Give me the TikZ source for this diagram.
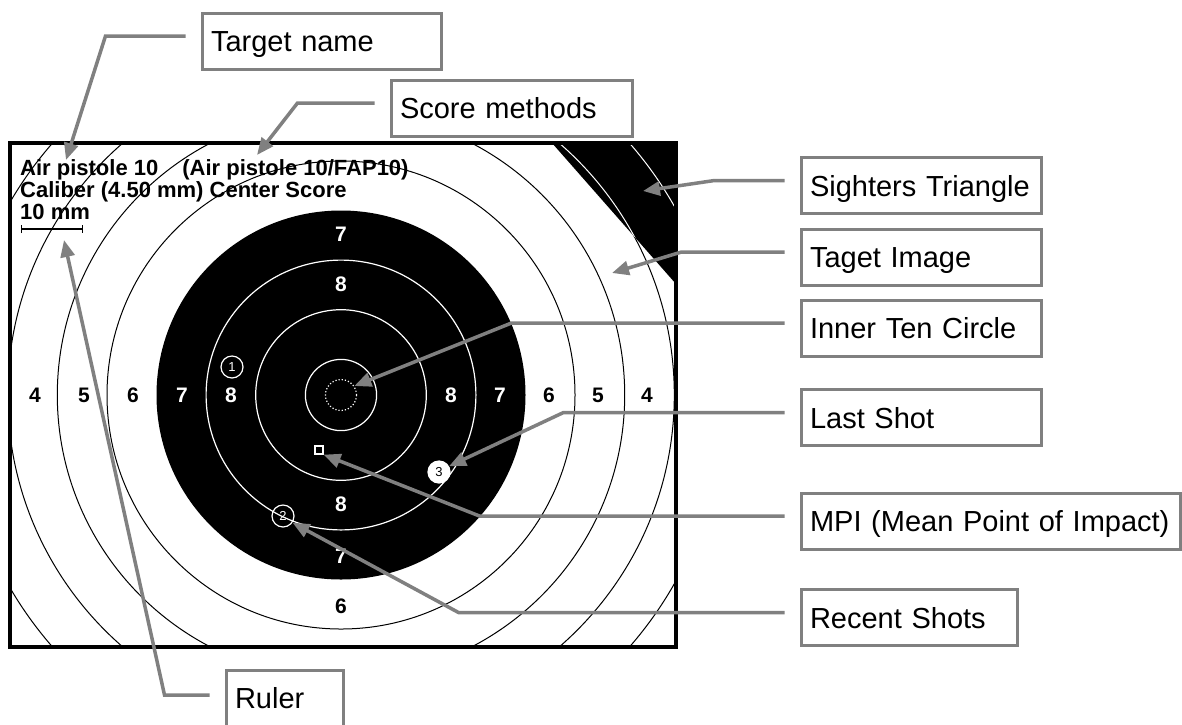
\documentclass[tikz,border=0pt]{standalone}
\usepackage{fontspec}
\setmainfont{Liberation Sans}
\usetikzlibrary{arrows.meta}
\definecolor{linegray}{RGB}{128,128,128}

\begin{document}
\begin{tikzpicture}[
    x=1pt, y=-1pt,
    callout/.style={draw=linegray, line width=3pt, fill=white, anchor=west, inner xsep=9pt, inner ysep=0pt, minimum height=56pt, text height=21pt, text depth=0pt, align=left, font=\fontsize{29pt}{34pt}\selectfont},
    arrow/.style={draw=linegray, line width=3.5pt, -{Triangle[length=17pt,width=14pt]}},
    num/.style={font=\fontsize{21pt}{21pt}\selectfont\bfseries, text height=15pt, text depth=0pt, inner sep=0pt},
    shot/.style={circle, draw=white, line width=1.2pt, minimum size=22pt, inner sep=0pt, font=\fontsize{13pt}{13pt}\selectfont},
    header/.style={anchor=base west, inner sep=0pt, font=\fontsize{22pt}{23pt}\selectfont\bfseries}
]
    \useasboundingbox (0,0) rectangle (1182,724);
    \coordinate (ctr) at (341,395);

    % Target face
    \fill[white] (10,143) rectangle (676,647);
    \begin{scope}
        \clip (10,143) rectangle (676,647);
        \foreach \r in {234,283.7,333.3,383}
            \draw[line width=1pt] (ctr) circle[radius=\r];
        \fill (ctr) circle[radius=184.5];
        \foreach \r in {134.9,85.3,35.6}
            \draw[white, line width=1.2pt] (ctr) circle[radius=\r];
        % Sighters triangle
        \fill (552,143) -- (676,143) -- (676,284) -- cycle;
        \clip (552,143) -- (676,143) -- (676,284) -- cycle;
        \foreach \r in {333.3,383}
            \draw[white, line width=1pt] (ctr) circle[radius=\r];
    \end{scope}
    \draw[line width=3.5pt] (10,143) rectangle (676,647);

    % Ring values
    \foreach \n/\r/\c in {8/110/white,7/159/white,6/208/black,5/257/black,4/306/black} {
        \node[num, text=\c] (l\n) at ({341-\r},395) {\n};
        \node[num, text=\c] (r\n) at ({341+\r},395) {\n};
    }
    \node[num, text=white] (t7) at (341,234) {7};
    \node[num, text=white] (t8) at (341,284) {8};
    \node[num, text=white] (b8) at (341,504) {8};
    \node[num, text=white] (b7) at (341,556) {7};
    \node[num] (b6) at (341,606) {6};

    % Shots and MPI
    \node[circle, draw=white, dotted, line width=1.2pt, minimum size=31pt, inner sep=0pt] (innerten) at (ctr) {};
    \node[shot, text=white] (shot1) at (232,367) {1};
    \node[shot, text=white] (shot2) at (283,516) {2};
    \node[shot, fill=white, text=black] (shot3) at (439,472) {3};
    \node[draw=white, line width=1.2pt, minimum size=8pt, inner sep=0pt] (mpi) at (319,450) {};

    % Header text and ruler
    \node[header] (title) at (20,175) {Air pistole 10\hspace{24pt}(Air pistole 10/FAP10)};
    \node[header] (caliber) at (20,197) {Caliber (4.50 mm) Center Score};
    \node[header] (scale) at (20,219) {10 mm};
    \draw[line width=1.2pt, {Bar[width=8pt]}-{Bar[width=8pt]}] (21,229) -- (83,229);

    \coordinate (pname) at (66,160);
    \coordinate (pscore) at (257,155);
    \coordinate (psight) at (643,191);
    \coordinate (pimage) at (612,273);
    \coordinate (pruler) at (64,240);

    % Callouts
    \node[callout, text width=221pt] (name) at (200.5,41) {Target name};
    \node[callout, text width=223pt] (score) at (389.5,108) {Score methods};
    \node[callout, text width=222pt] (sighters) at (799.5,185.5) {Sighters Triangle};
    \node[callout, text width=222pt] (image) at (799.5,257) {Taget Image};
    \node[callout, text width=222pt] (inner) at (799.5,328) {Inner Ten Circle};
    \node[callout, text width=222pt] (last) at (799.5,417.5) {Last Shot};
    \node[callout, text width=361pt] (mpilabel) at (799.5,521) {MPI (Mean Point of Impact)};
    \node[callout, text width=198pt] (recent) at (799.5,617.5) {Recent Shots};
    \node[callout, text width=99pt] (ruler) at (224.5,698) {Ruler};

    % Arrows
    \draw[arrow] ([xshift=-15pt,yshift=5pt]name.west) -- ++(-80,0) -- (pname);
    \draw[arrow] ([xshift=-15pt,yshift=5pt]score.west) -- ++(-77,0) -- (pscore);
    \draw[arrow] ([xshift=-15pt,yshift=5pt]sighters.west) -- ++(-70,0) -- (psight);
    \draw[arrow] ([xshift=-15pt,yshift=5pt]image.west) -- ++(-103,0) -- (pimage);
    \draw[arrow] ([xshift=-15pt,yshift=5pt]inner.west) -- ++(-273,0) -- (innerten.34);
    \draw[arrow] ([xshift=-15pt,yshift=5pt]last.west) -- ++(-221,0) -- (shot3.30);
    \draw[arrow] ([xshift=-15pt,yshift=5pt]mpilabel.west) -- ++(-305,0) -- (mpi.south east);
    \draw[arrow] ([xshift=-15pt,yshift=5pt]recent.west) -- ++(-326,0) -- (shot2.-35);
    \draw[arrow] ([xshift=-15pt,yshift=3pt]ruler.west) -- ++(-45,0) -- (pruler);

\end{tikzpicture}
\end{document}
